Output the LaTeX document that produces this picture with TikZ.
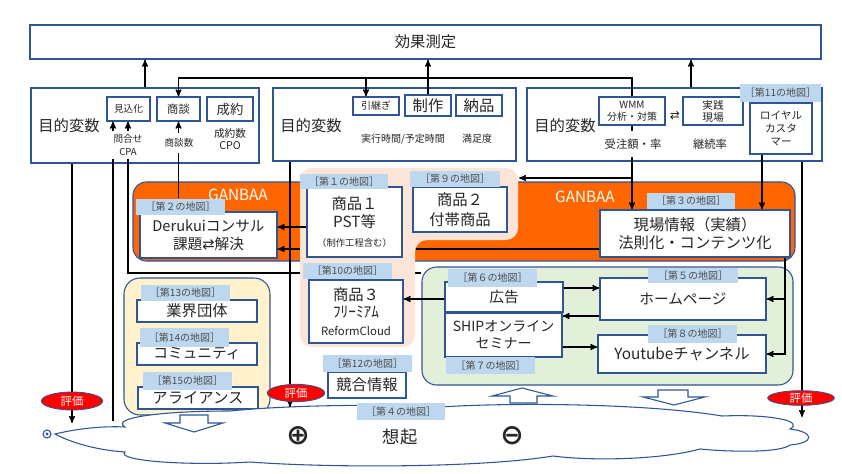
\documentclass[tikz,border=0pt]{standalone}
\usepackage{fontspec}
\setmainfont{Noto Sans CJK JP}
\newfontfamily\dejavu{DejaVu Sans}
\usetikzlibrary{arrows,shapes.geometric}

\definecolor{boxblue}{RGB}{47,85,151}
\definecolor{tagblue}{RGB}{189,215,238}
\definecolor{ganbaa}{RGB}{255,102,0}
\definecolor{peach}{RGB}{251,229,214}
\definecolor{mint}{RGB}{226,240,217}
\definecolor{cream}{RGB}{255,242,204}
\definecolor{evalred}{RGB}{255,0,0}

\newcommand\fs[2]{\fontsize{#1}{#2}\selectfont}

\tikzset{
  sz/.style 2 args={minimum width=#1*0.75pt,minimum height=#2*0.75pt},
  frame/.style={draw=boxblue,line width=1.1pt,fill=white,inner sep=0pt,text=black!85},
  box/.style={draw=boxblue,line width=0.9pt,fill=white,inner sep=0pt,align=center,text=black!85},
  tag/.style={fill=tagblue,inner sep=0pt,text=black!70,font=\fs{7.5}{8}},
  lbl/.style={inner sep=1pt,align=center,text=black!85},
  region/.style={draw=boxblue,line width=0.8pt,rounded corners=10pt,inner sep=0pt},
  evalmark/.style={ellipse,draw=boxblue,line width=0.6pt,fill=evalred,text=white,inner sep=0pt,font=\fs{8.5}{9}},
  hollow/.style={draw=boxblue,line width=0.8pt,fill=white},
}

\begin{document}
\begin{tikzpicture}[x=0.75pt,y=-0.75pt,>=stealth',line width=0.9pt]
\useasboundingbox (0,0) rectangle (842,474);

% top row
\node[frame,sz={791}{34},font=\fs{11.5}{14}] (effect) at (425.5,42) {効果測定};
\node[frame,sz={228}{75}] (objL) at (145,125.5) {};
\node[frame,sz={243}{73}] (objM) at (394.5,124.5) {};
\node[frame,sz={295}{73}] (objR) at (674.5,124.5) {};
\node[lbl,font=\fs{11.5}{14}] (varL) at (69,126) {目的変数};
\node[lbl,font=\fs{11.5}{14}] (varM) at (311,126) {目的変数};
\node[lbl,font=\fs{11.5}{14}] (varR) at (565,126) {目的変数};

\node[box,sz={43}{24},font=\fs{7.2}{9}] (mikomi) at (128.5,109) {見込化};
\node[box,sz={43}{24},font=\fs{8.5}{10}] (shodan) at (178.5,109) {商談};
\node[box,sz={46}{24},font=\fs{10}{12}] (seiyaku) at (230,109) {成約};
\node[lbl,font=\fs{8}{9}] (cpo) at (230,139) {成約数\\CPO};

\node[box,sz={46}{18},font=\fs{7.5}{9}] (hiki) at (376,106) {引継ぎ};
\node[box,sz={46}{21},font=\fs{11.5}{13}] (seisaku) at (428,105.5) {制作};
\node[box,sz={46}{21},font=\fs{11.5}{13}] (nohin) at (479,105.5) {納品};
\node[lbl,font=\fs{7.5}{9}] (jikan) at (403,139) {実行時間/予定時間};
\node[lbl,font=\fs{7.5}{9}] (manzoku) at (477,139) {満足度};

\node[box,sz={66}{28},font=\fs{7.5}{9}] (wmm) at (632,111) {WMM\\分析・対策};
\node[box,sz={60}{28},font=\fs{8}{9}] (jissen) at (713,111) {実践\\現場};
\node[lbl,font=\dejavu\fs{9}{10}] (swap) at (675,116) {⇄};
\node[lbl,font=\fs{8.5}{10}] (keizoku) at (710,144) {継続率};
\node[box,sz={62}{51},font=\fs{8}{10}] (loyal) at (781,128.5) {ロイヤル\\カスタ\\マー};
\node[tag,sz={81}{18}] (tag11) at (780.5,93) {［第11の地図］};

% GANBAA
\node[region,fill=ganbaa,sz={662}{79}] (ganbaa) at (464,221.5) {};
\node[text=white,font=\fs{11.5}{14}] (gbL) at (238,195) {GANBAA};
\node[text=white,font=\fs{11.5}{14}] (gbR) at (585,197) {GANBAA};
\node[box,sz={137}{46},font=\fs{11}{13.5}] (deru) at (208.5,235) {Derukuiコンサル\\課題{\dejavu⇄}解決};
\node[tag,sz={89}{16}] (tag2) at (180.5,207) {［第２の地図］};
\node[box,sz={190}{47},font=\fs{11.5}{13.5}] (genba) at (695,233.5) {現場情報（実績）\\法則化・コンテンツ化};
\node[tag,sz={88}{16}] (tag3) at (691,201) {［第３の地図］};

\node[region,fill=mint,rounded corners=11pt,sz={371}{118}] (web) at (607.5,326) {};
\node[region,fill=cream,rounded corners=12pt,sz={146}{137}] (comm) at (197,346.5) {};

% lines under the products area
\draw[->] (web.west |- 0,273) -| (mikomi.south -| 128,0);
\draw[->] (genba.west |- 0,249) -- (deru.east |- 0,249);

% products
\fill[peach,rounded corners=9pt] (300,168) -- (518,168) -- (518,240) -- (415,240) -- (415,347) -- (300,347) -- cycle;
\node[box,sz={95}{70},font=\fs{11.5}{14}] (sho1) at (354.5,222) {商品１\\PST等\\{\fs{7}{9}（制作工程含む）}};
\node[tag,sz={88}{15}] (tag1) at (344,181.5) {［第１の地図］};
\node[box,sz={94}{45},font=\fs{11.5}{15}] (sho2) at (460,209.5) {商品２\\付帯商品};
\node[tag,sz={90}{16}] (tag9) at (455,179) {［第９の地図］};
\node[box,sz={94}{63},font=\fs{11.5}{13}] (sho3) at (356,311.5) {商品３\\ﾌﾘｰﾐｱﾑ\\{\fs{8.5}{10}ReformCloud}};
\node[tag,sz={89}{16}] (tag10) at (347.5,271) {［第10の地図］};
\node[box,sz={78}{26},font=\fs{11.5}{14}] (kyogo) at (367,385) {競合情報};
\node[tag,sz={89}{17}] (tag12) at (367.5,363.5) {［第12の地図］};

% web
\node[box,sz={118}{30},font=\fs{11}{13}] (kokoku) at (504,297) {広告};
\node[tag,sz={89}{18}] (tag6) at (492.5,278) {［第６の地図］};
\node[box,sz={166}{42},font=\fs{11}{13}] (hp) at (683,299) {ホームページ};
\node[tag,sz={90}{15}] (tag5) at (693,275.5) {［第５の地図］};
\node[box,sz={117}{44},font=\fs{10.5}{12.5}] (ship) at (503.5,335) {SHIPオンライン\\セミナー};
\node[tag,sz={89}{17}] (tag7) at (490.5,365.5) {［第７の地図］};
\node[box,sz={168}{38},font=\fs{11.5}{13}] (yt) at (682,354) {Youtubeチャンネル};
\node[tag,sz={89}{18}] (tag8) at (692.5,334) {［第８の地図］};

% community
\node[box,sz={120}{22},font=\fs{11.5}{13}] (gyokai) at (197,311) {業界団体};
\node[tag,sz={89}{16}] (tag13) at (185.5,293) {［第13の地図］};
\node[box,sz={120}{22},font=\fs{11}{13}] (komyu) at (197,354) {コミュニティ};
\node[tag,sz={89}{19}] (tag14) at (184.5,337.5) {［第14の地図］};
\node[box,sz={120}{22},font=\fs{11.5}{13}] (alli) at (198,398) {アライアンス};
\node[tag,sz={89}{18}] (tag15) at (187.5,381) {［第15の地図］};

% recall cloud
\draw[hollow] (55,434) .. controls (80,428) and (105,426) .. (125,427)
  .. controls (110,418) and (160,411) .. (230,411)
  .. controls (290,405) and (380,404) .. (440,407)
  .. controls (520,402) and (650,404) .. (722,416)
  .. controls (770,414) and (805,421) .. (790,429)
  .. controls (815,432) and (815,443) .. (790,445)
  .. controls (780,453) and (730,452) .. (700,449)
  .. controls (660,460) and (590,461) .. (553,456)
  .. controls (480,468) and (330,468) .. (250,462)
  .. controls (190,466) and (115,461) .. (125,452)
  .. controls (95,450) and (70,442) .. (55,434) -- cycle;
\draw[boxblue,line width=0.8pt,fill=white] (47,434) circle[radius=3pt];
\fill[boxblue] (47,434) circle[radius=1.2pt];
\node[lbl,font=\fs{13}{15}] (souki) at (400,437) {想起};
\node[lbl,font=\dejavu\bfseries\fs{21}{22}] (plus) at (298,436) {⊕};
\node[lbl,font=\dejavu\bfseries\fs{21}{22}] (minus) at (512,436) {⊖};
\node[tag,sz={88}{17}] (tag4) at (401,411.5) {［第４の地図］};

\draw[hollow] (180,415) -- (208,415) -- (208,423) -- (223,423) -- (194,432) -- (165,423) -- (180,423) -- cycle;
\draw[hollow] (510,403) -- (537,403) -- (537,396) -- (553,396) -- (522,388) -- (492,396) -- (510,396) -- cycle;
\draw[hollow] (658,390) -- (688,390) -- (688,397) -- (705,397) -- (674,405) -- (643,397) -- (658,397) -- cycle;

% connectors
\draw[->] (objL.north -| 145,0) -- (effect.south -| 145,0);
\draw[->] (seisaku.north) -- (effect.south -| seisaku.north);
\draw[->] (objR.north -| 691,0) -- (effect.south -| 691,0);
\coordinate (fork) at (wmm.north |- 0,78);
\draw[->] (wmm.north) -- (fork) -| (shodan.north);
\draw[->] (fork -| 366,0) -- (hiki.north -| 366,0);
\draw[->] (tag2.north -| shodan.south) -- (shodan.south);
\coordinate (ev1) at (113,421);
\draw[->] (ev1) -- (mikomi.south -| ev1);
\coordinate (dL) at (72,423);
\coordinate (dM) at (290,407);
\coordinate (dR) at (802,417);
\draw[->] (objL.south -| dL) -- (dL);
\draw[->] (objM.south -| dM) -- (dM);
\draw[->] (objR.south -| dR) -- (dR);
\draw[->] (wmm.south) -- (genba.north -| wmm.south);
\coordinate (pk) at (519,178);
\draw[->] (wmm.south |- pk) -- (pk);
\draw[->] (loyal.south -| 762,0) -- (genba.north -| 762,0);
\draw[->] (genba.south -| 785,0) |- (yt.east);
\draw[->] (hp.east -| 785,0) -- (hp.east);
\draw[->] (sho1.west |- 0,227) -- (deru.east |- 0,227);
\draw[->] (kokoku.east |- 0,288) -- (hp.west |- 0,288);
\draw[->] (hp.west |- 0,316) -- (ship.east |- 0,316);
\draw[->] (ship.east |- 0,347) -- (yt.west |- 0,347);
\draw[->] (kokoku.west |- 0,299) -- (sho3.east |- 0,299);

% labels over lines
\node[lbl,fill=white,inner ysep=3pt,font=\fs{7.2}{9.5}] (toiawase) at (128,145) {問合せ\\CPA};
\node[lbl,fill=white,inner ysep=4pt,font=\fs{7.2}{9}] (shodanN) at (179,143) {商談数};
\node[lbl,fill=white,inner ysep=6pt,font=\fs{8.5}{10}] (juchu) at (633,144) {受注額・率};

% evaluation
\node[evalmark,minimum width=46pt,minimum height=13.5pt] (evalL) at (72,401) {評価};
\node[evalmark,minimum width=43pt,minimum height=13pt] (evalM) at (296,393) {評価};
\node[evalmark,minimum width=50pt,minimum height=11pt] (evalR) at (801,398) {評価};

\end{tikzpicture}
\end{document}
